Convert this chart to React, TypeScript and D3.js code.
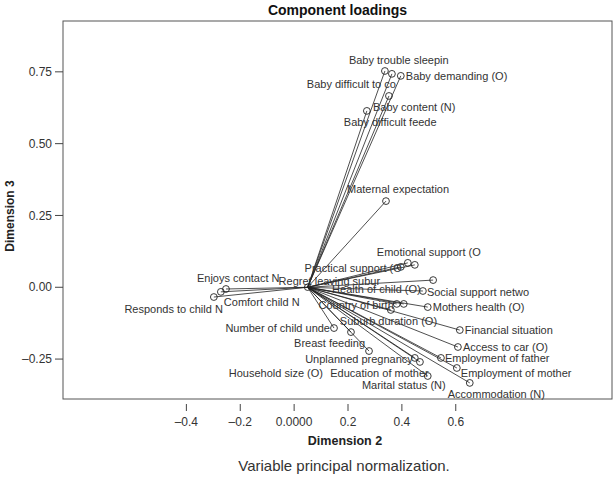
import React from "react";
import * as d3 from "d3";

// ---- data ----
const variables: string[] = [
  "Baby trouble sleepin", "Baby difficult to co", "Baby demanding (O)", "Baby content (N)",
  "Baby difficult feede", "Maternal expectation", "Practical support (O", "(unlabelled)",
  "Emotional support (O", "Regret leaving subur", "Social support netwo", "Health of child (O)",
  "Country of birth", "Suburb duration (O)", "Mothers health (O)", "Financial situation",
  "Number of child unde", "Household size (O)", "Breast feeding", "Access to car (O)",
  "Employment of father", "Unplanned pregnancy", "Marital status (N)", "Education of mother",
  "Employment of mother", "Accommodation (N)", "Enjoys contact N", "Comfort child N",
  "Responds to child N",
];
const dim2: number[] = [
  0.337, 0.363, 0.396, 0.352, 0.270, 0.341, 0.396, 0.422,
  0.448, 0.516, 0.478, 0.407, 0.381, 0.359, 0.496, 0.615,
  0.148, 0.211, 0.278, 0.608, 0.545, 0.448, 0.467, 0.496,
  0.604, 0.652, -0.253, -0.272, -0.298,
];
const dim3: number[] = [
  0.753, 0.743, 0.736, 0.666, 0.614, 0.300, 0.071, 0.085,
  0.078, 0.025, -0.013, -0.058, -0.058, -0.079, -0.069, -0.149,
  -0.142, -0.156, -0.222, -0.208, -0.246, -0.246, -0.260, -0.309,
  -0.281, -0.333, -0.006, -0.016, -0.034,
];
const ORIGIN: [number, number] = [0.05, 0];
const xTicks: number[] = [-0.4, -0.2, 0, 0.2, 0.4, 0.6];
const xTickLabels: string[] = ["\u20130.4", "\u20130.2", "0.0000", "0.2", "0.4", "0.6"];
const yTicks: number[] = [0.75, 0.5, 0.25, 0, -0.25];
const yTickLabels: string[] = ["0.75", "0.50", "0.25", "0.00", "\u20130.25"];

// ---- label layout (pixel offsets from each point) ----
const labelLayout: Record<string, [number, number, "start" | "end"]> = {
  "Baby trouble sleepin": [-36, -11, "start"],
  "Baby difficult to co": [4, 10, "end"],
  "Baby demanding (O)": [5, 0, "start"],
  "Baby content (N)": [-16, 11, "start"],
  "Baby difficult feede": [-23, 11, "start"],
  "Maternal expectation": [-39, -12, "start"],
  "Practical support (O": [1, 1, "end"],
  "Emotional support (O": [-38, -13, "start"],
  "Regret leaving subur": [-53, 1, "end"],
  "Social support netwo": [4, 1, "start"],
  "Health of child (O)": [17, -15, "end"],
  "Country of birth": [-3, 1, "end"],
  "Suburb duration (O)": [-51, 11, "start"],
  "Mothers health (O)": [5, 0, "start"],
  "Financial situation": [5, 0, "start"],
  "Number of child unde": [-4, 0, "end"],
  "Household size (O)": [-28, 41, "end"],
  "Breast feeding": [-4, -8, "end"],
  "Access to car (O)": [5, 0, "start"],
  "Employment of father": [4, 0, "start"],
  "Unplanned pregnancy": [-2, 1, "end"],
  "Marital status (N)": [-58, 23, "start"],
  "Education of mother": [1, -3, "end"],
  "Employment of mother": [4, 5, "start"],
  "Accommodation (N)": [-22, 11, "start"],
  "Enjoys contact N": [-29, -11, "start"],
  "Comfort child N": [3, 10, "start"],
  "Responds to child N": [9, 12, "end"],
};

const W = 616, H = 481;
const box = { left: 63, top: 21, right: 612, bottom: 399 };
const FONT = "'Liberation Sans', Arial, Helvetica, sans-serif";

export default function App() {
  const x = d3.scaleLinear().domain([-0.858, 1.18]).range([box.left, box.right]);
  const y = d3.scaleLinear().domain([0.927, -0.389]).range([box.top, box.bottom]);
  const ox = x(ORIGIN[0]), oy = y(ORIGIN[1]);
  const pts = variables.map((name, i) => ({ name, px: x(dim2[i]), py: y(dim3[i]) }));
  const textColor = "#333";

  return (
    <svg width={W} height={H} style={{ position: "absolute", left: 0, top: 0, background: "#fff" }} fontFamily={FONT}>
      <rect x={0} y={0} width={W} height={H} fill="#fff" />
      <text x={(box.left + box.right) / 2} y={15} textAnchor="middle" fontWeight="bold" fontSize={14} fill="#111">
        Component loadings
      </text>
      <rect x={box.left} y={box.top} width={box.right - box.left} height={box.bottom - box.top}
        fill="none" stroke="#555" strokeWidth={1} />

      {/* y axis */}
      {yTicks.map((t, i) => (
        <g key={"y" + i}>
          <line x1={box.left - 8} x2={box.left} y1={y(t)} y2={y(t)} stroke="#444" />
          <text x={box.left - 11} y={y(t)} dy="0.35em" textAnchor="end" fontSize={12} fill={textColor}>
            {yTickLabels[i]}
          </text>
        </g>
      ))}
      <text transform={`translate(14,${(box.top + box.bottom) / 2 + 6}) rotate(-90)`} textAnchor="middle"
        fontWeight="bold" fontSize={12} fill="#222">Dimension 3</text>

      {/* x axis (drawn beneath the frame) */}
      {xTicks.map((t, i) => (
        <g key={"x" + i}>
          <line x1={x(t)} x2={x(t)} y1={404} y2={411} stroke="#444" />
          <text x={x(t)} y={422} dy="0.35em" textAnchor="middle" fontSize={12} fill={textColor}>
            {xTickLabels[i]}
          </text>
        </g>
      ))}
      <text x={345} y={441} dy="0.35em" textAnchor="middle" fontWeight="bold" fontSize={12.5} fill="#222">
        Dimension 2
      </text>
      <text x={344} y={466} dy="0.35em" textAnchor="middle" fontSize={15} fill={textColor}>
        Variable principal normalization.
      </text>

      {/* vectors */}
      {pts.map((p, i) => (
        <line key={"l" + i} x1={ox} y1={oy} x2={p.px} y2={p.py} stroke="#222" strokeWidth={0.8} />
      ))}
      <circle cx={ox} cy={oy} r={3.2} fill="none" stroke="#222" strokeWidth={0.9} />
      {pts.map((p, i) => (
        <circle key={"c" + i} cx={p.px} cy={p.py} r={3.4} fill="none" stroke="#222" strokeWidth={0.9} />
      ))}
      {pts.map((p, i) => {
        const lay = labelLayout[p.name];
        if (!lay) return null;
        return (
          <text key={"t" + i} x={p.px + lay[0]} y={p.py + lay[1]} dy="0.35em" textAnchor={lay[2]}
            fontSize={11} fill={textColor}>
            {p.name}
          </text>
        );
      })}
    </svg>
  );
}
